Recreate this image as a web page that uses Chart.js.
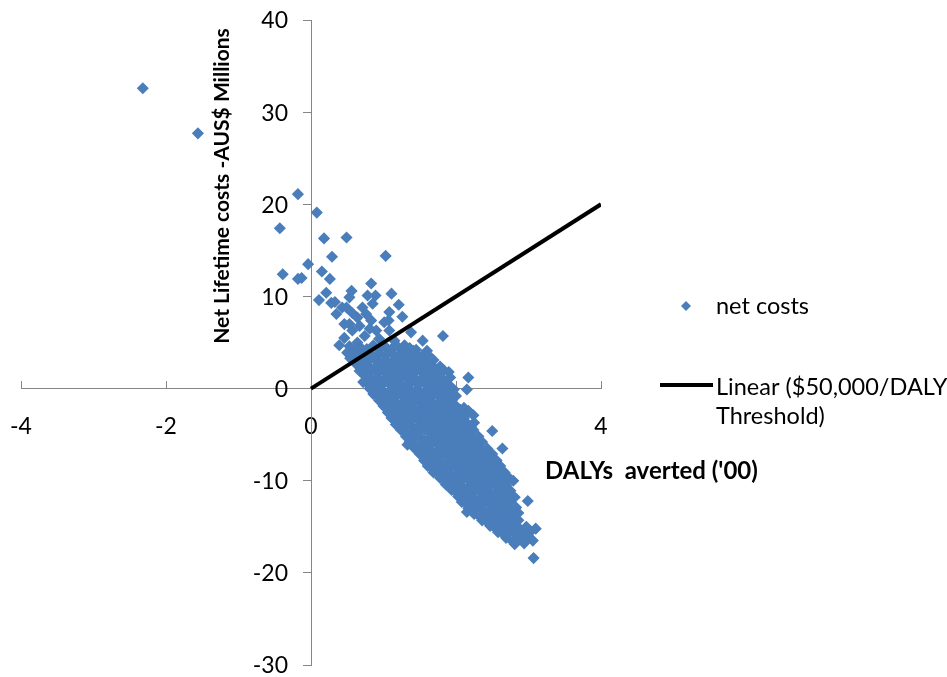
<!DOCTYPE html>
<html>
<head>
<meta charset="utf-8">
<script src="https://cdn.jsdelivr.net/npm/chart.js@4.4.1/dist/chart.umd.min.js"></script>
<style>
  html, body { margin: 0; padding: 0; background: #fff; }
  #wrap { width: 947px; height: 677px; }
</style>
</head>
<body>
<div id="wrap"><canvas id="c" width="947" height="677"></canvas></div>
<script>
// net costs (AUS$ millions) against DALYs averted ('00)
const netCostPoints = [
  // outliers, upper left
  [-2.32, 32.6], [-1.56, 27.7], [-0.18, 21.1], [-0.43, 17.4], [-0.39, 12.4],
  [-0.18, 11.9], [-0.13, 12.0], [-0.04, 13.5], [0.08, 19.1], [0.18, 16.3],
  [0.49, 16.4], [0.29, 14.3], [1.03, 14.4], [0.15, 12.7], [0.26, 11.9],
  [0.21, 10.4], [0.11, 9.6], [0.28, 9.3], [0.33, 9.4], [0.35, 8.1],
  [0.43, 8.8], [0.46, 7.0], [0.56, 10.6], [0.53, 9.9], [0.78, 10.1],
  [0.89, 10.1], [1.11, 10.3], [0.83, 11.4], [0.85, 9.2], [1.08, 8.3],
  [0.49, 8.8], [0.46, 5.5], [0.50, 3.9], [1.60, 4.1],
  [0.57, 8.2], [0.64, 7.7], [0.53, 7.0], [0.71, 8.8], [0.76, 8.1],
  [0.83, 7.4], [0.67, 6.8], [0.81, 6.5], [0.90, 6.3], [0.57, 6.3],
  [0.74, 5.7], [0.94, 5.4], [1.08, 6.3], [1.01, 7.2], [0.64, 5.0],
  [1.15, 5.2], [1.29, 4.7], [0.39, 4.7],
  // stray points along the band edges
  [1.21, 9.1], [1.26, 7.8], [1.07, 7.4], [1.82, 5.7], [1.54, 5.2],
  [1.38, 6.1], [1.90, 1.8], [2.17, 1.2], [2.15, -0.1], [2.24, -2.9],
  [2.50, -4.6], [2.64, -6.5], [1.33, -6.1], [2.79, -10.0], [2.99, -12.2],
  [3.10, -15.2], [3.06, -16.5], [3.07, -18.4], [2.15, -13.4],
  // dense band
  [0.53, 4.6], [0.69, 4.4], [0.86, 4.7], [1.03, 4.5], [1.19, 4.6], [1.36, 4.4], [1.45, 4.2],
  [0.61, 4.2], [0.77, 4.3], [0.94, 4.2], [1.11, 4.3], [1.27, 4.2], [1.41, 4.1],
  [0.61, 3.9], [0.78, 4.0], [0.94, 3.8], [1.11, 3.9], [1.28, 4.0], [1.44, 3.8], [1.61, 3.7],
  [0.70, 3.6], [0.86, 3.5], [1.03, 3.6], [1.20, 3.5], [1.36, 3.6], [1.53, 3.5],
  [0.54, 3.3], [0.69, 3.2], [0.86, 3.3], [1.03, 3.1], [1.19, 3.3], [1.36, 3.2], [1.53, 3.3], [1.69, 3.1],
  [0.62, 2.9], [0.78, 3.0], [0.95, 2.9], [1.11, 2.8], [1.28, 2.9], [1.45, 3.0], [1.61, 2.9],
  [0.63, 2.6], [0.79, 2.5], [0.96, 2.7], [1.13, 2.6], [1.29, 2.5], [1.46, 2.7], [1.63, 2.6], [1.78, 2.4],
  [0.71, 2.3], [0.88, 2.2], [1.05, 2.3], [1.21, 2.3], [1.38, 2.2], [1.55, 2.3], [1.71, 2.2],
  [0.67, 1.9], [0.83, 2.0], [1.00, 1.9], [1.17, 2.0], [1.33, 1.9], [1.50, 2.0], [1.67, 1.8], [1.83, 2.0],
  [0.75, 1.6], [0.92, 1.7], [1.09, 1.6], [1.25, 1.6], [1.42, 1.7], [1.59, 1.6], [1.75, 1.6],
  [0.75, 1.3], [0.92, 1.2], [1.08, 1.4], [1.25, 1.3], [1.42, 1.2], [1.58, 1.4], [1.75, 1.3], [1.92, 1.2],
  [0.84, 1.0], [1.00, 0.9], [1.17, 1.0], [1.34, 1.0], [1.50, 0.9], [1.67, 1.0], [1.84, 0.9],
  [0.72, 0.7], [0.89, 0.6], [1.06, 0.7], [1.22, 0.6], [1.39, 0.7], [1.56, 0.6], [1.72, 0.7], [1.89, 0.5],
  [0.81, 0.3], [0.98, 0.4], [1.14, 0.3], [1.31, 0.3], [1.48, 0.4], [1.64, 0.3], [1.81, 0.3],
  [0.81, 0.0], [0.97, -0.1], [1.14, 0.1], [1.31, 0.0], [1.47, -0.1], [1.64, 0.0], [1.81, 0.1], [1.97, -0.1],
  [0.89, -0.3], [1.06, -0.4], [1.23, -0.3], [1.39, -0.3], [1.56, -0.4], [1.73, -0.3], [1.89, -0.3],
  [0.86, -0.6], [1.03, -0.7], [1.19, -0.6], [1.36, -0.7], [1.53, -0.6], [1.69, -0.7], [1.86, -0.6], [2.00, -0.8],
  [0.95, -1.0], [1.11, -0.9], [1.28, -1.0], [1.45, -1.0], [1.61, -0.9], [1.78, -1.0], [1.93, -1.0],
  [0.94, -1.3], [1.11, -1.2], [1.28, -1.4], [1.44, -1.3], [1.61, -1.2], [1.78, -1.4], [1.94, -1.3],
  [1.03, -1.6], [1.20, -1.7], [1.36, -1.6], [1.53, -1.6], [1.70, -1.7], [1.86, -1.6],
  [1.00, -1.9], [1.17, -2.0], [1.33, -1.9], [1.50, -2.1], [1.67, -1.9], [1.83, -2.0], [2.00, -1.9], [2.11, -2.1],
  [1.09, -2.3], [1.25, -2.2], [1.42, -2.3], [1.59, -2.3], [1.75, -2.2], [1.92, -2.3], [2.06, -2.3],
  [1.06, -2.6], [1.22, -2.5], [1.39, -2.7], [1.56, -2.6], [1.72, -2.5], [1.89, -2.7], [2.06, -2.6], [2.17, -2.4],
  [1.14, -2.9], [1.31, -3.0], [1.48, -2.9], [1.64, -2.9], [1.81, -3.0], [1.98, -2.9], [2.12, -2.9],
  [1.11, -3.2], [1.28, -3.3], [1.44, -3.2], [1.61, -3.3], [1.78, -3.2], [1.94, -3.3], [2.11, -3.2],
  [1.20, -3.6], [1.36, -3.5], [1.53, -3.6], [1.70, -3.6], [1.86, -3.5], [2.03, -3.6],
  [1.17, -3.9], [1.33, -3.8], [1.50, -4.0], [1.67, -3.9], [1.83, -3.8], [2.00, -4.0], [2.17, -3.9], [2.25, -3.7],
  [1.25, -4.2], [1.42, -4.3], [1.59, -4.2], [1.75, -4.2], [1.92, -4.3], [2.09, -4.2], [2.21, -4.2],
  [1.24, -4.5], [1.40, -4.6], [1.57, -4.5], [1.74, -4.6], [1.90, -4.5], [2.07, -4.6], [2.24, -4.5],
  [1.32, -4.9], [1.49, -4.8], [1.66, -4.9], [1.82, -4.9], [1.99, -4.8], [2.16, -4.9],
  [1.31, -5.2], [1.47, -5.1], [1.64, -5.3], [1.81, -5.2], [1.97, -5.1], [2.14, -5.3], [2.31, -5.2],
  [1.39, -5.5], [1.56, -5.6], [1.73, -5.5], [1.89, -5.5], [2.06, -5.6], [2.23, -5.5],
  [1.36, -5.8], [1.53, -5.9], [1.69, -5.8], [1.86, -5.9], [2.03, -5.8], [2.19, -5.9], [2.36, -5.8],
  [1.45, -6.2], [1.61, -6.1], [1.78, -6.2], [1.95, -6.2], [2.11, -6.1], [2.28, -6.2],
  [1.43, -6.5], [1.60, -6.4], [1.76, -6.6], [1.93, -6.5], [2.10, -6.4], [2.26, -6.6], [2.43, -6.5],
  [1.52, -6.8], [1.68, -6.9], [1.85, -6.8], [2.02, -6.8], [2.18, -6.9], [2.35, -6.8],
  [1.50, -7.1], [1.67, -7.2], [1.83, -7.1], [2.00, -7.2], [2.17, -7.1], [2.33, -7.2], [2.50, -7.1],
  [1.59, -7.5], [1.75, -7.4], [1.92, -7.5], [2.09, -7.5], [2.25, -7.4], [2.42, -7.5],
  [1.56, -7.8], [1.72, -7.7], [1.89, -7.9], [2.06, -7.8], [2.22, -7.7], [2.39, -7.9], [2.56, -7.8],
  [1.64, -8.1], [1.81, -8.2], [1.98, -8.1], [2.14, -8.1], [2.31, -8.2], [2.48, -8.1],
  [1.61, -8.4], [1.78, -8.5], [1.94, -8.4], [2.11, -8.5], [2.28, -8.4], [2.44, -8.5], [2.61, -8.4],
  [1.70, -8.8], [1.86, -8.7], [2.03, -8.8], [2.20, -8.8], [2.36, -8.7], [2.53, -8.8],
  [1.69, -9.1], [1.86, -9.0], [2.03, -9.2], [2.19, -9.1], [2.36, -9.0], [2.53, -9.2], [2.67, -9.1],
  [1.78, -9.4], [1.95, -9.5], [2.11, -9.4], [2.28, -9.4], [2.45, -9.5], [2.60, -9.4],
  [1.78, -9.7], [1.94, -9.8], [2.11, -9.7], [2.28, -9.8], [2.44, -9.7], [2.61, -9.8], [2.72, -9.6],
  [1.86, -10.1], [2.03, -10.0], [2.20, -10.1], [2.36, -10.1], [2.53, -10.0], [2.67, -10.1],
  [1.86, -10.4], [2.03, -10.3], [2.19, -10.5], [2.36, -10.4], [2.53, -10.3], [2.69, -10.5],
  [1.95, -10.7], [2.11, -10.8], [2.28, -10.7], [2.45, -10.7], [2.61, -10.8],
  [1.94, -11.0], [2.11, -11.1], [2.28, -11.0], [2.44, -11.1], [2.61, -11.0], [2.75, -11.1],
  [2.03, -11.4], [2.20, -11.3], [2.36, -11.4], [2.53, -11.4], [2.68, -11.3],
  [2.03, -11.7], [2.19, -11.6], [2.36, -11.8], [2.53, -11.7], [2.69, -11.6], [2.81, -11.8],
  [2.11, -12.0], [2.28, -12.1], [2.45, -12.0], [2.61, -12.0], [2.75, -12.1],
  [2.08, -12.3], [2.25, -12.4], [2.42, -12.3], [2.58, -12.4], [2.75, -12.3],
  [2.17, -12.7], [2.34, -12.6], [2.50, -12.7], [2.67, -12.7],
  [2.17, -13.0], [2.33, -12.9], [2.50, -13.1], [2.67, -13.0], [2.83, -12.9],
  [2.25, -13.3], [2.42, -13.4], [2.59, -13.3], [2.75, -13.3],
  [2.25, -13.6], [2.42, -13.7], [2.58, -13.6], [2.75, -13.7], [2.86, -13.5],
  [2.34, -14.0], [2.50, -13.9], [2.67, -14.0], [2.81, -14.0],
  [2.36, -14.3], [2.53, -14.2], [2.69, -14.4], [2.86, -14.3],
  [2.45, -14.6], [2.61, -14.7], [2.78, -14.6],
  [2.47, -14.9], [2.64, -15.0], [2.81, -14.9], [2.97, -15.0],
  [2.56, -15.3], [2.73, -15.2], [2.89, -15.3],
  [2.58, -15.6], [2.75, -15.5], [2.92, -15.7], [3.03, -15.5],
  [2.67, -15.9], [2.84, -16.0], [2.98, -15.9],
  [2.69, -16.2], [2.86, -16.3], [3.00, -16.1],
  [2.78, -16.6], [2.93, -16.5],
  [2.81, -16.9], [2.94, -16.8]
];

// $50,000 per DALY threshold line
const thresholdX = [0, 4];
const thresholdY = [0, 20];

const xTicks = [-4, -2, 0, 2, 4];
const yTicks = [-30, -20, -10, 0, 10, 20, 30, 40];

const seriesLabel = 'net costs';
const thresholdLabel = ['Linear ($50,000/DALY', 'Threshold)'];
const xTitle = "DALYs  averted ('00)";
const yTitle = 'Net Lifetime costs -AUS$ Millions';

const blue = '#4A7EBB';
const axisGrey = '#868686';
const fontFamily = 'Lato, "Open Sans", sans-serif';
const tickFont = '23px ' + fontFamily;

// no overhang padding: the axes cross inside the plot
function noPadding(scale) {
  scale.paddingLeft = 0;
  scale.paddingRight = 0;
  scale.paddingTop = 0;
  scale.paddingBottom = 0;
}

// y tick labels, axis titles and legend, drawn by hand like the Excel original
const chartText = {
  id: 'chartText',
  afterDraw(chart) {
    const ctx = chart.ctx;
    const ds = chart.data.datasets;
    const xs = chart.scales.x;
    const ys = chart.scales.y;
    const axisX = xs.getPixelForValue(0);
    ctx.save();
    ctx.fillStyle = '#000';
    ctx.textBaseline = 'middle';

    // y tick labels sit left of the tick marks
    ctx.font = tickFont;
    ctx.textAlign = 'right';
    ys.ticks.forEach(t => {
      ctx.fillText(String(t.value), axisX - 23, ys.getPixelForValue(t.value) + 1);
    });

    // y title, rotated
    ctx.save();
    ctx.font = 'bold 21px ' + fontFamily;
    ctx.textAlign = 'center';
    ctx.translate(222, 186);
    ctx.rotate(-Math.PI / 2);
    ctx.fillText(yTitle, 0, 0);
    ctx.restore();

    // x title
    ctx.font = 'bold 24px ' + fontFamily;
    ctx.textAlign = 'left';
    ctx.fillText(xTitle, 545, 471);

    // legend
    ctx.font = '23.5px ' + fontFamily;
    ctx.fillStyle = ds[1].backgroundColor;
    ctx.beginPath();
    ctx.moveTo(686, 301); ctx.lineTo(691, 306); ctx.lineTo(686, 311); ctx.lineTo(681, 306);
    ctx.closePath();
    ctx.fill();
    ctx.fillStyle = '#000';
    ctx.fillText(ds[1].label, 716, 306);

    ctx.strokeStyle = ds[0].borderColor;
    ctx.lineWidth = ds[0].borderWidth;
    ctx.beginPath();
    ctx.moveTo(660, 385);
    ctx.lineTo(713, 385);
    ctx.stroke();
    ctx.fillText(thresholdLabel[0], 716, 387);
    ctx.fillText(thresholdLabel[1], 716, 416);
    ctx.restore();
  }
};

new Chart(document.getElementById('c'), {
  type: 'scatter',
  data: {
    datasets: [
      {
        type: 'line',
        label: thresholdLabel.join(' '),
        data: thresholdX.map((x, i) => ({ x: x, y: thresholdY[i] })),
        borderColor: '#000',
        borderWidth: 4,
        pointRadius: 0,
        fill: false,
        order: 0
      },
      {
        label: seriesLabel,
        data: netCostPoints.map(p => ({ x: p[0], y: p[1] })),
        pointStyle: 'rectRot',
        pointRadius: 5,
        borderWidth: 1.5,
        backgroundColor: blue,
        borderColor: blue,
        order: 1
      }
    ]
  },
  options: {
    responsive: false,
    animation: false,
    devicePixelRatio: 1,
    layout: { padding: { left: 21, top: 20, right: 346, bottom: 12 } },
    plugins: {
      legend: { display: false },
      tooltip: { enabled: false }
    },
    scales: {
      x: {
        type: 'linear',
        min: -4,
        max: 4,
        position: { y: 0 },
        afterBuildTicks: s => { s.ticks = xTicks.map(v => ({ value: v })); },
        afterFit: noPadding,
        ticks: {
          color: '#000',
          font: { family: fontFamily, size: 23 },
          padding: 32,
          maxRotation: 0
        },
        grid: {
          drawOnChartArea: false,
          drawTicks: true,
          tickLength: -8,
          color: axisGrey
        },
        border: { color: axisGrey, width: 1 }
      },
      y: {
        type: 'linear',
        min: -30,
        max: 40,
        position: { x: 0 },
        afterBuildTicks: s => { s.ticks = yTicks.map(v => ({ value: v })); },
        afterFit: noPadding,
        ticks: { display: false },
        grid: {
          drawOnChartArea: false,
          drawTicks: true,
          tickLength: 8,
          color: axisGrey
        },
        border: { color: axisGrey, width: 1 }
      }
    }
  },
  plugins: [chartText]
});
</script>
</body>
</html>
